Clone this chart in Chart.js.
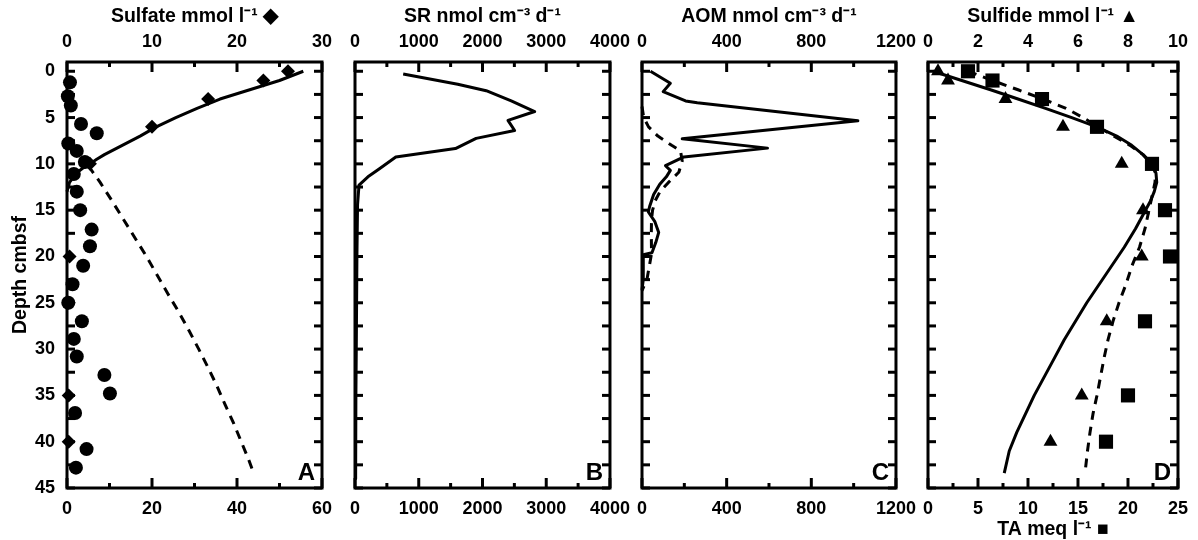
<!DOCTYPE html>
<html><head><meta charset="utf-8">
<script src="https://cdn.jsdelivr.net/npm/chart.js@4.4.1/dist/chart.umd.min.js"></script>
<style>
html,body{margin:0;padding:0;background:#fff;}
#wrap{position:relative;width:1198px;height:540px;overflow:hidden;background:#fff;}
#wrap canvas{position:absolute;top:0;}
</style></head><body><div id="wrap">
<canvas id="cA"></canvas><canvas id="cB"></canvas><canvas id="cC"></canvas><canvas id="cD"></canvas>
</div>
<script>
// ---------- tick labels ----------
const depthTicks = [0,5,10,15,20,25,30,35,40,45];
const sulfateTicks = [0,10,20,30];
const methaneTicks = [0,20,40,60];
const srTicks = [0,1000,2000,3000,4000];
const aomTicks = [0,400,800,1200];
const sulfideTicks = [0,2,4,6,8,10];
const taTicks = [0,5,10,15,20,25];

// ---------- Panel A ----------
const sulfateDepth = [0,1,3,6,10,20,25,35,40];
const sulfateConc  = [26.0,23.1,16.6,10.0,2.7,0.3,0.2,0.2,0.2];
const methaneDepth = [1.2,2.7,3.7,5.7,6.7,7.8,8.6,9.8,11.1,13,15,17.1,18.9,21,23,25,27,28.9,30.8,32.8,34.8,36.9,40.8,42.8];
const methaneConc  = [0.7,0.2,0.9,3.3,7.0,0.3,2.3,4.2,1.6,2.3,3.1,5.8,5.4,3.8,1.3,0.3,3.5,1.6,2.3,8.8,10.1,1.9,4.6,2.1];
const sulfateModelDepth = [0,1,2,3,4,5,6,7,8,9,9.5,10,10.5,11,12,13];
const sulfateModel      = [27.8,25.0,21.5,18.0,15.3,12.8,10.5,8.6,6.5,4.4,3.5,2.7,1.8,1.1,0.3,0];
const methaneModelDepth = [10.2,12,14,16,18,20,22,24,26,28,30,32,34,36,38,40,42,43.5];
const methaneModel      = [5,7.8,10.6,13.3,16,18.7,21.2,23.7,26.3,28.7,31,33.2,35.3,37.2,39.2,41,42.8,44];

// ---------- Panel B ----------
const srDepth = [0.3,1.4,2.1,3.2,4.35,5.3,6.4,7.25,8.35,9.25,10.55,11.3,12.3,14.4,20,25,30,35,40,44];
const srRate  = [756,1612,2058,2451,2819,2400,2504,1900,1575,640,378,220,63,40,30,22,18,14,11,9];

// ---------- Panel C ----------
const aomDepth = [0,1.3,2.2,3.2,3.4,5.35,7.3,8.3,9.25,10.2,10.7,11.4,12.2,13.3,14.6,15.2,16.2,17.4,18.5,19.6,19.8,22.5,23.6];
const aomRate  = [40,134,100,206,261,1020,190,593,198,111,134,115,84,55,36,30,60,79,65,47,6,6,0];
const aomModelDepth = [3.8,5,6,7,8,8.6,9.7,10.9,12,13,14,15,16,17.5,19.7,22.4,23.7];
const aomModel      = [0,8,31,75,140,182,190,174,125,85,62,50,45,44,45,24,0];

// ---------- Panel D ----------
const sulfideDepth = [0,1,3,6,10,15,20,27,35,40];
const sulfideConc  = [0.4,0.8,3.1,5.4,7.75,8.6,8.55,7.15,6.15,4.9];
const taDepth = [0,1,3,6,10,15,20,27,35,40];
const taConc  = [4.0,6.45,11.4,16.9,22.4,23.7,24.2,21.7,20.0,17.8];
const sulfideModelDepth = [0,1,2,3,4,5,6,7,8,9,10,11,12,13,14,15,17,19,21,23,25,27,29,31,33,35,37,39,41,43.4];
const sulfideModel      = [0.2,1.35,2.5,3.6,4.7,5.75,6.75,7.55,8.15,8.6,8.95,9.12,9.15,9.05,8.9,8.7,8.3,7.85,7.35,6.85,6.35,5.9,5.45,5.05,4.65,4.25,3.9,3.55,3.25,3.05];
const taModelDepth = [0,1,2,3,4,5,6,7,8,9,10,11,12,13,15,17,19,21,23,25,27,29,31,33,35,37,39,41,43.4];
const taModel      = [4.0,6.45,9.0,11.5,13.8,15.5,17.0,18.6,20.2,21.5,22.4,22.75,22.7,22.5,22.1,21.7,21.15,20.4,19.8,19.1,18.5,18.0,17.6,17.25,16.9,16.5,16.2,15.95,15.7];

// ---------- helpers ----------
const FONT = "'Liberation Sans', Arial, Helvetica, sans-serif";
Chart.defaults.font.family = FONT;
Chart.defaults.color = '#000';
const zip = (xs, ys) => xs.map((x, i) => ({x: x, y: ys[i]}));
const TITLE_SIZE = 19.5;

function markers(xs, ys, style, r, axis) {
  return {data: zip(xs, ys), xAxisID: axis, showLine: false, pointStyle: style, pointRadius: r,
    pointHoverRadius: r, backgroundColor: '#000', borderColor: '#000', borderWidth: 0, clip: false};
}
function line(xs, ys, axis, dashed) {
  return {data: zip(xs, ys), xAxisID: axis, showLine: true, pointRadius: 0, pointHoverRadius: 0,
    borderColor: '#000', borderWidth: 3, borderDash: dashed ? [9, 7] : [], borderJoinStyle: 'round',
    tension: 0, fill: false, clip: false};
}

const frameTicks = {
  id: 'frameTicks',
  afterDatasetsDraw(chart, args, opts) {
    const {ctx, chartArea: a, scales} = chart;
    ctx.save();
    ctx.strokeStyle = '#000';
    ctx.lineWidth = 3;
    ctx.lineCap = 'butt';
    const seg = (x1, y1, x2, y2) => { ctx.beginPath(); ctx.moveTo(x1, y1); ctx.lineTo(x2, y2); ctx.stroke(); };
    const withMid = (t) => { const out = []; t.forEach((v, i) => { out.push([v, true]); if (i < t.length - 1) out.push([(v + t[i + 1]) / 2, false]); }); return out; };
    withMid(opts.topTicks).forEach(([v, maj]) => { const x = scales.xTop.getPixelForValue(v); seg(x, a.top, x, a.top + (maj ? 10 : 5)); });
    withMid(opts.botTicks).forEach(([v, maj]) => { const x = scales.xBot.getPixelForValue(v); seg(x, a.bottom, x, a.bottom - (maj ? 10 : 5)); });
    withMid(depthTicks).forEach(([v]) => { const y = scales.y.getPixelForValue(v); seg(a.left, y, a.left + 8, y); seg(a.right, y, a.right - 8, y); });
    ctx.lineJoin = 'miter';
    ctx.strokeRect(a.left, a.top, a.right - a.left, a.bottom - a.top);
    ctx.fillStyle = '#000';
    ctx.font = 'bold 24px ' + FONT;
    ctx.textAlign = 'right';
    ctx.textBaseline = 'alphabetic';
    ctx.fillText(opts.letter, a.right - 7, a.bottom - 8);
    ctx.restore();
  }
};

function xScale(pos, ticks, title, h, pad) {
  return {
    type: 'linear', position: pos, min: ticks[0], max: ticks[ticks.length - 1],
    afterBuildTicks: (s) => { s.ticks = ticks.map(v => ({value: v})); },
    afterFit: (s) => { s.height = h; },
    grid: {display: false, drawTicks: false}, border: {display: false},
    ticks: {font: {size: 18, weight: 'bold'}, color: '#000', padding: pad, maxRotation: 0, autoSkip: false,
      callback: (v) => String(v)},
    title: title ? {display: true, text: title, color: '#000', font: {size: TITLE_SIZE, weight: 'bold', lineHeight: 1},
      padding: pos === 'top' ? {top: 7, bottom: 0} : {top: 0, bottom: 1}} : {display: false}
  };
}

function makePanel(id, left, plotLeft, plotRight, rightPad, cfg) {
  const cv = document.getElementById(id);
  const lm = plotLeft - left;
  const w = plotRight + rightPad - left;
  cv.width = w; cv.height = 540;
  cv.style.left = left + 'px';
  cv.style.width = w + 'px'; cv.style.height = '540px';
  new Chart(cv, {
    type: 'scatter',
    data: {datasets: cfg.datasets},
    options: {
      responsive: false, animation: false, events: [],
      layout: {padding: {left: 0, right: rightPad, top: 0, bottom: 0}},
      plugins: {legend: {display: false}, tooltip: {enabled: false},
        frameTicks: {letter: cfg.letter, topTicks: cfg.topTicks, botTicks: cfg.botTicks}},
      scales: {
        xTop: xScale('top', cfg.topTicks, cfg.topTitle, 62, 9),
        xBot: xScale('bottom', cfg.botTicks, cfg.botTitle, 52, 10),
        y: {
          type: 'linear', position: 'left', reverse: true, min: -1, max: 45,
          afterBuildTicks: (s) => { s.ticks = depthTicks.map(v => ({value: v})); },
          afterFit: (s) => { s.width = lm; },
          grid: {display: false, drawTicks: false}, border: {display: false},
          ticks: {display: cfg.showY, font: {size: 18, weight: 'bold'}, color: '#000', padding: 12, callback: (v) => String(v)},
          title: {display: cfg.showY, text: 'Depth cmbsf', color: '#000', font: {size: TITLE_SIZE, weight: 'bold', lineHeight: 1}, padding: {top: 11}}
        }
      }
    },
    plugins: [frameTicks]
  });
}

makePanel('cA', 0, 67, 322, 30, {
  letter: 'A', showY: true, topTicks: sulfateTicks, botTicks: methaneTicks,
  topTitle: 'Sulfate mmol l\u207B\u00B9 \u25C6', botTitle: null,
  datasets: [
    line(sulfateModel, sulfateModelDepth, 'xTop', false),
    line(methaneModel, methaneModelDepth, 'xBot', true),
    markers(sulfateConc, sulfateDepth, 'rectRot', 7, 'xTop'),
    markers(methaneConc, methaneDepth, 'circle', 7, 'xBot')
  ]
});
makePanel('cB', 325, 355, 610, 30, {
  letter: 'B', showY: false, topTicks: srTicks, botTicks: srTicks,
  topTitle: 'SR nmol cm\u207B\u00B3 d\u207B\u00B9', botTitle: null,
  datasets: [ line(srRate, srDepth, 'xTop', false) ]
});
makePanel('cC', 612, 642, 896, 30, {
  letter: 'C', showY: false, topTicks: aomTicks, botTicks: aomTicks,
  topTitle: 'AOM nmol cm\u207B\u00B3 d\u207B\u00B9', botTitle: null,
  datasets: [ line(aomModel, aomModelDepth, 'xTop', true), line(aomRate, aomDepth, 'xTop', false) ]
});
makePanel('cD', 898, 928, 1180, 18, {
  letter: 'D', showY: false, topTicks: sulfideTicks, botTicks: taTicks,
  topTitle: 'Sulfide mmol l\u207B\u00B9 \u25B2', botTitle: 'TA meq l\u207B\u00B9 \u25A0',
  datasets: [
    line(sulfideModel, sulfideModelDepth, 'xTop', false),
    line(taModel, taModelDepth, 'xBot', true),
    markers(sulfideConc, sulfideDepth, 'triangle', 8, 'xTop'),
    markers(taConc, taDepth, 'rect', 10, 'xBot')
  ]
});
</script>
</body></html>
